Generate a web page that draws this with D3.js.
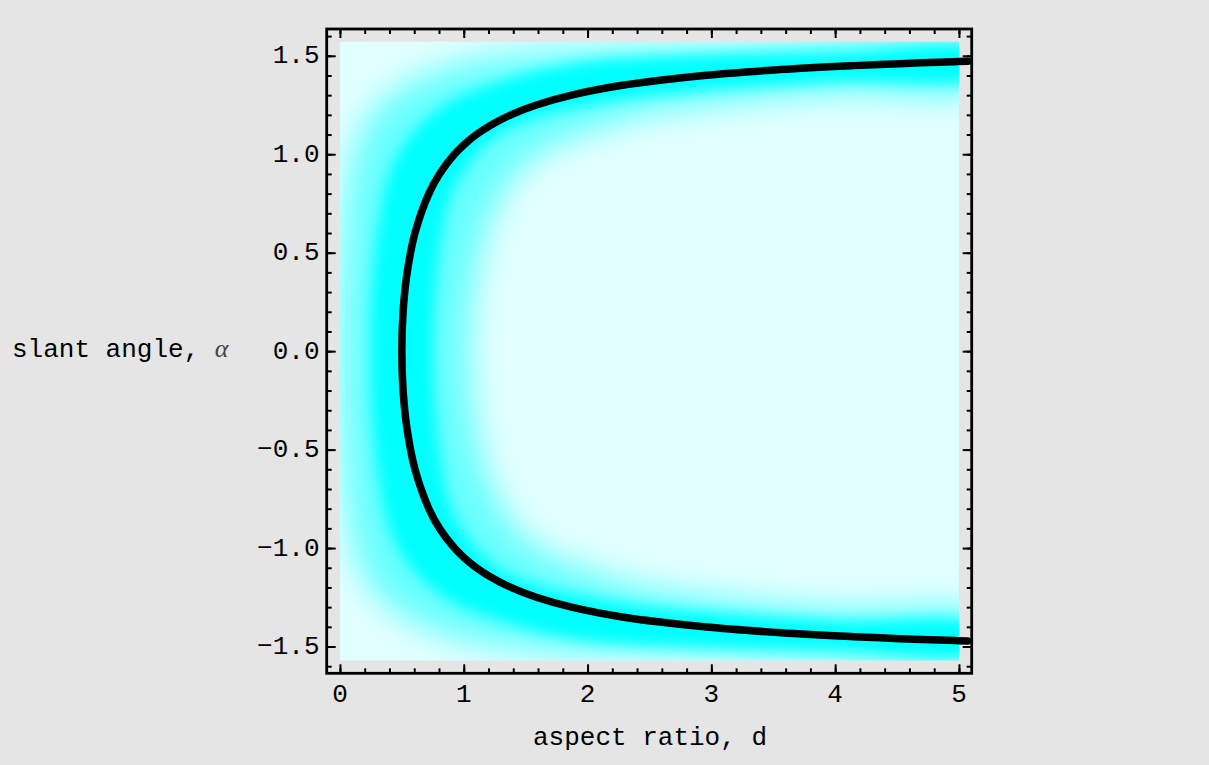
<!DOCTYPE html>
<html><head><meta charset="utf-8">
<script src="https://cdn.jsdelivr.net/npm/d3@7"></script>
<style>html,body{margin:0;padding:0;background:#e5e5e5;}</style>
</head><body>
<script>
// ---- data ----
const curveAlpha = [-1.472,-1.47,-1.46,-1.45,-1.43,-1.40,-1.35,-1.30,-1.25,-1.20,-1.15,-1.10,-1.05,-1.00,-0.90,-0.80,-0.60,-0.40,-0.20,0,
                    0.20,0.40,0.60,0.80,0.90,1.00,1.05,1.10,1.15,1.20,1.25,1.30,1.35,1.40,1.43,1.45,1.46,1.47,1.472];
const curveD     = [5.07,4.97,4.52,4.15,3.56,2.94,2.28,1.87,1.586,1.38,1.224,1.102,1.005,0.925,0.804,0.718,0.606,0.543,0.510,0.500,
                    0.510,0.543,0.606,0.718,0.804,0.925,1.005,1.102,1.224,1.38,1.586,1.87,2.28,2.94,3.56,4.15,4.52,4.97,5.07];
// saturated glow core: outer edge (bottom to top) and inner edge (top to bottom)
const coreOuterD = [5.2,4.0,2.8,1.9,1.3,0.9,0.65,0.5,0.40,0.33,0.27,0.25,0.27,0.33,0.40,0.5,0.65,0.9,1.3,1.9,2.8,4.0,5.2];
const coreOuterA = [-1.525,-1.515,-1.50,-1.46,-1.37,-1.27,-1.15,-1.03,-0.9,-0.7,-0.4,0,0.4,0.7,0.9,1.03,1.15,1.27,1.37,1.46,1.50,1.515,1.525];
const coreInnerD = [5.2,4.0,3.0,2.4,2.0,1.6,1.3,1.1,0.9,0.8,0.75,0.8,0.9,1.1,1.3,1.6,2.0,2.4,3.0,4.0,5.2];
const coreInnerA = [1.40,1.37,1.33,1.29,1.25,1.19,1.11,1.0,0.8,0.5,0,-0.5,-0.8,-1.0,-1.11,-1.19,-1.25,-1.29,-1.33,-1.37,-1.40];
// fainter halo around the core
const haloOuterD = [5.2,3.0,1.6,0.9,0.45,0.2,0.08,0.02,0.0,0.02,0.08,0.2,0.45,0.9,1.6,3.0,5.2];
const haloOuterA = [-1.55,-1.545,-1.52,-1.45,-1.32,-1.15,-0.9,-0.5,0,0.5,0.9,1.15,1.32,1.45,1.52,1.545,1.55];
const haloInnerD = [5.2,4.0,3.0,2.4,2.0,1.6,1.35,1.15,1.05,1.15,1.35,1.6,2.0,2.4,3.0,4.0,5.2];
const haloInnerA = [1.34,1.31,1.25,1.19,1.11,1.0,0.84,0.55,0,-0.55,-0.84,-1.0,-1.11,-1.19,-1.25,-1.31,-1.34];
const densityDRange = [0, 5];
const densityARange = [-1.5708, 1.5708];
const xMajorTicks = [0,1,2,3,4,5];
const xTickLabels = ["0","1","2","3","4","5"];
const xMinorTicks = [0,0.2,0.4,0.6,0.8,1,1.2,1.4,1.6,1.8,2,2.2,2.4,2.6,2.8,3,3.2,3.4,3.6,3.8,4,4.2,4.4,4.6,4.8,5];
const yMajorTicks = [-1.5,-1,-0.5,0,0.5,1,1.5];
const yTickLabels = ["\u22121.5","\u22121.0","\u22120.5","0.0","0.5","1.0","1.5"];
const yMinorTicks = [-1.6,-1.5,-1.4,-1.3,-1.2,-1.1,-1,-0.9,-0.8,-0.7,-0.6,-0.5,-0.4,-0.3,-0.2,-0.1,0,0.1,0.2,0.3,0.4,0.5,0.6,0.7,0.8,0.9,1,1.1,1.2,1.3,1.4,1.5,1.6];
const xLabel = "aspect ratio, d";
const yLabel = "slant angle, ";
const yLabelSym = "\u03b1";

// ---- layout ----
const W = 1209, H = 765;
const L = 326.7, R = 971.7, T = 29, B = 673.3;
const x = d3.scaleLinear().domain([-0.107, 5.103]).range([L, R]);
const y = d3.scaleLinear().domain([-1.636, 1.636]).range([B, T]);
const FONT = "'Liberation Mono', 'DejaVu Sans Mono', monospace";
const FS = 26;

const svg = d3.select("body").append("svg").attr("width", W).attr("height", H);
svg.append("rect").attr("width", W).attr("height", H).attr("fill", "#e5e5e5");

const defs = svg.append("defs");
const dx0 = x(densityDRange[0]), dx1 = x(densityDRange[1]);
const dy0 = y(densityARange[1]), dy1 = y(densityARange[0]);
defs.append("clipPath").attr("id", "dens").append("rect")
  .attr("x", dx0).attr("y", dy0).attr("width", dx1 - dx0).attr("height", dy1 - dy0);
function blurFilter(id, sd) {
  defs.append("filter").attr("id", id).attr("filterUnits", "userSpaceOnUse")
    .attr("x", 0).attr("y", 0).attr("width", W).attr("height", H)
    .append("feGaussianBlur").attr("stdDeviation", sd);
}
blurFilter("blurHalo", 16);
blurFilter("blurCore", 7);

// density background
svg.append("rect").attr("x", dx0).attr("y", dy0).attr("width", dx1 - dx0).attr("height", dy1 - dy0)
  .attr("fill", "#e2ffff");

const bandLine = d3.line().x(p => x(p[0])).y(p => y(p[1])).curve(d3.curveCatmullRomClosed);
const mkBand = (oD, oA, iD, iA) => oD.map((d, i) => [d, oA[i]]).concat(iD.map((d, i) => [d, iA[i]]));
const gd = svg.append("g").attr("clip-path", "url(#dens)");
gd.append("path").attr("d", bandLine(mkBand(haloOuterD, haloOuterA, haloInnerD, haloInnerA)))
  .attr("fill", "#00ffff").attr("fill-opacity", 0.55).attr("filter", "url(#blurHalo)");
gd.append("path").attr("d", bandLine(mkBand(coreOuterD, coreOuterA, coreInnerD, coreInnerA)))
  .attr("fill", "#00ffff").attr("filter", "url(#blurCore)");

// curve
const curvePts = curveD.map((d, i) => [d, curveAlpha[i]]);
const line = d3.line().x(p => x(p[0])).y(p => y(p[1])).curve(d3.curveCatmullRom);
svg.append("path").attr("d", line(curvePts)).attr("fill", "none")
  .attr("stroke", "#000").attr("stroke-width", 7.5).attr("stroke-linecap", "round").attr("stroke-linejoin", "round");

// axes (inward ticks on all sides)
function styleAxis(g) {
  g.select(".domain").remove();
  g.selectAll(".tick line").attr("stroke", "#000").attr("stroke-width", 2);
}
const mk = (axis, vals, size) => axis.tickValues(vals).tickSize(size).tickFormat("");
svg.append("g").attr("transform", `translate(0,${B})`).call(mk(d3.axisBottom(x), xMinorTicks, -5)).call(styleAxis);
svg.append("g").attr("transform", `translate(0,${B})`).call(mk(d3.axisBottom(x), xMajorTicks, -9)).call(styleAxis);
svg.append("g").attr("transform", `translate(0,${T})`).call(mk(d3.axisTop(x), xMinorTicks, -5)).call(styleAxis);
svg.append("g").attr("transform", `translate(0,${T})`).call(mk(d3.axisTop(x), xMajorTicks, -9)).call(styleAxis);
svg.append("g").attr("transform", `translate(${L},0)`).call(mk(d3.axisLeft(y), yMinorTicks, -5)).call(styleAxis);
svg.append("g").attr("transform", `translate(${L},0)`).call(mk(d3.axisLeft(y), yMajorTicks, -9)).call(styleAxis);
svg.append("g").attr("transform", `translate(${R},0)`).call(mk(d3.axisRight(y), yMinorTicks, -5)).call(styleAxis);
svg.append("g").attr("transform", `translate(${R},0)`).call(mk(d3.axisRight(y), yMajorTicks, -9)).call(styleAxis);

// frame
svg.append("rect").attr("x", L).attr("y", T).attr("width", R - L).attr("height", B - T)
  .attr("fill", "none").attr("stroke", "#000").attr("stroke-width", 2.8);

// tick labels
svg.append("g").selectAll("text").data(xMajorTicks).join("text")
  .attr("x", d => x(d)).attr("y", 702).attr("text-anchor", "middle")
  .attr("font-family", FONT).attr("font-size", FS).attr("fill", "#000")
  .text((d, i) => xTickLabels[i]);
svg.append("g").selectAll("text").data(yMajorTicks).join("text")
  .attr("x", 319.5).attr("y", d => y(d) + 7.5).attr("text-anchor", "end")
  .attr("font-family", FONT).attr("font-size", FS).attr("fill", "#000")
  .text((d, i) => yTickLabels[i]);

// axis labels
svg.append("text").attr("x", 650).attr("y", 745).attr("text-anchor", "middle")
  .attr("font-family", FONT).attr("font-size", FS).attr("fill", "#000").text(xLabel);
const yl = svg.append("text").attr("x", 12).attr("y", 357)
  .attr("font-family", FONT).attr("font-size", FS).attr("fill", "#000").attr("xml:space", "preserve");
yl.append("tspan").text(yLabel);
yl.append("tspan").attr("font-family", "'Liberation Serif', 'DejaVu Serif', serif").attr("font-style", "italic")
  .attr("fill", "#444").text(yLabelSym);
</script>
</body></html>
